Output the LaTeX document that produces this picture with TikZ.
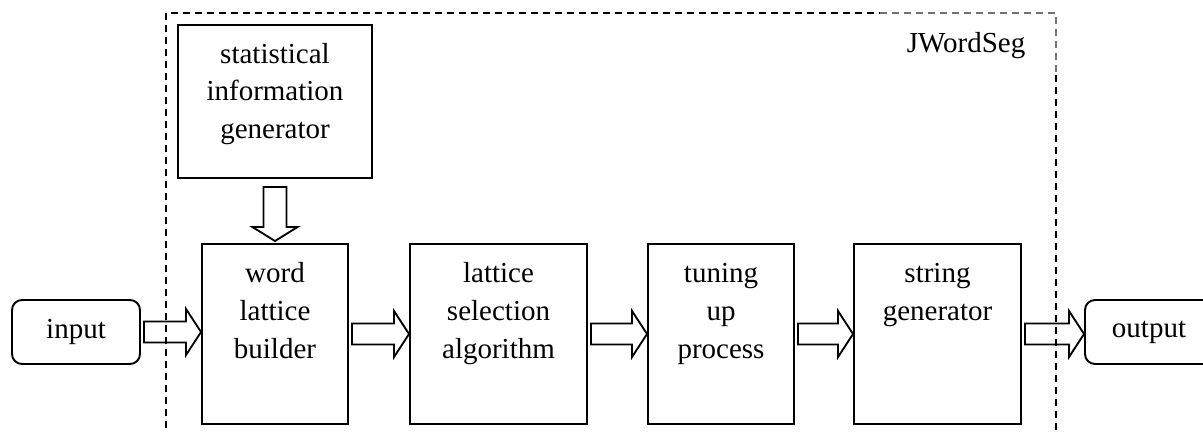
\documentclass[tikz,border=0pt]{standalone}
\usepackage{fontspec}
\setmainfont{Liberation Serif}
\usetikzlibrary{calc,fit}
\newdimen\px \px=0.75pt
% hollow block arrow from the right side of #1 to the left side of #2
\newcommand\flowarrow[2]{%
  \coordinate (fa-tail) at ($(#1.east)+(3,0)$);
  \coordinate (fa-tip) at (#2.west |- #1.east);
  \draw[blockarrow] ($(fa-tail)+(0,-10.5)$) -- ($(fa-tip)+(-15,-10.5)$)
    -- ($(fa-tip)+(-15,-23)$) -- (fa-tip) -- ($(fa-tip)+(-15,23)$)
    -- ($(fa-tip)+(-15,10.5)$) -- ($(fa-tail)+(0,10.5)$) -- cycle;}
\begin{document}
\begin{tikzpicture}[x=0.75pt,y=-0.75pt,
  every node/.style={font=\fontsize{21.75}{28.2}\selectfont},
  procbox/.style={draw,line width=1.45pt,inner sep=0pt,rectangle},
  termbox/.style={draw,line width=1.45pt,rounded corners=7.5pt,
    minimum width=128\px,minimum height=64\px,inner sep=0pt},
  % multi-line labels are placed by the baseline of their last line
  lbl/.style={align=center,inner sep=0pt,anchor=base},
  blockarrow/.style={draw,line width=1.4pt,line join=miter},
  frame/.style={line width=1.4pt,dash pattern=on 7\px off 5\px}]
\useasboundingbox (0,0) rectangle (1203,432);
\clip (0,0) rectangle (1203,432);

% system boundary (open at the bottom)
\draw[frame] (166,440) -- (166,13) -- (880,13);
\draw[frame,black!55] (880,13) -- (1056,13) -- (1056,75);
\draw[frame] (1056,75) -- (1056,440);
\node[anchor=base] (title) at (966,52) {JWordSeg};

% processing blocks
\node[procbox,fit={(178,25) (372,178)}] (stat) {};
\node[lbl] (stat-t) at (275,138.5) {statistical\\information\\generator};
\node[procbox,fit={(202,244) (348,424)}] (word) {};
\node[lbl] (word-t) at (275,358) {word\\lattice\\builder};
\node[procbox,fit={(410,244) (587,424)}] (sel) {};
\node[lbl] (sel-t) at (498.5,358) {lattice\\selection\\algorithm};
\node[procbox,fit={(648,244) (794,424)}] (tune) {};
\node[lbl] (tune-t) at (721,358) {tuning\\up\\process};
\node[procbox,fit={(854,244) (1021,424)}] (str) {};
\node[lbl] (str-t) at (937.5,320.5) {string\\generator};

% terminals
\node[termbox] (input) at (76,332) {input};
\node[termbox] (output) at (1149,332) {output};

% data flow
\draw[blockarrow] ($(stat.south)+(-11.5,8)$) -- ($(word.north)+(-11.5,-16)$)
  -- ($(word.north)+(-22.5,-16)$) -- ($(word.north)+(0,-2)$)
  -- ($(word.north)+(22.5,-16)$) -- ($(word.north)+(11.5,-16)$)
  -- ($(stat.south)+(11.5,8)$) -- cycle;
\flowarrow{input}{word}
\flowarrow{word}{sel}
\flowarrow{sel}{tune}
\flowarrow{tune}{str}
\flowarrow{str}{output}
\end{tikzpicture}
\end{document}
